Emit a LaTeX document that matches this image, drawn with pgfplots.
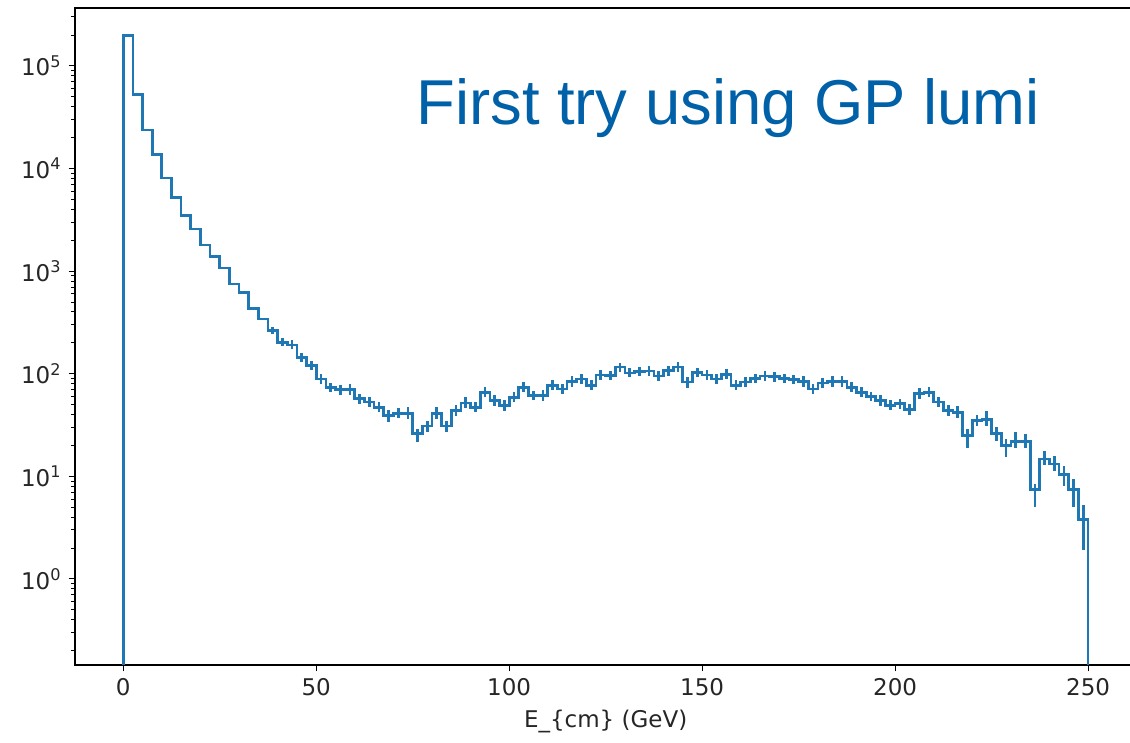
\documentclass[border=0pt]{standalone}
\usepackage{fontspec}
\setmainfont{DejaVu Sans}
\newfontfamily\arialfont{Liberation Sans}
\usepackage{pgfplots}
\pgfplotsset{compat=1.18}
\usepackage{pgfplotstable}
\definecolor{mplblue}{HTML}{1F77B4}
\definecolor{txtblue}{RGB}{0,96,168}

% histogram: left bin edge, bin content (2.5 GeV bins)
\pgfplotstableread{
x y
0 0.01
0 197000
2.5 53000
5 23800
7.5 13600
10 8100
12.5 5200
15 3470
17.5 2580
20 1800
22.5 1380
25 1070
27.5 750
30 622
32.5 434
35 342
37.5 263
40 203
42.5 191
45 145
47.5 120
50 89
52.5 74
55 70
57.5 70
60 57
62.5 53
65 47
67.5 39
70 41
72.5 41
75 26
77.5 31
80 41
82.5 31
85 44
87.5 52
90 47
92.5 66
95 55
97.5 49
100 59
102.5 74
105 61
107.5 61
110 77
112.5 71
115 84
117.5 89
120 77
122.5 97
125 96
127.5 116
130 102
132.5 105
135 106
137.5 95
140 107
142.5 116
145 83
147.5 103
150 97
152.5 89
155 99
157.5 77
160 83
162.5 90
165 95
167.5 94
170 90
172.5 88
175 84
177.5 71
180 81
182.5 84
185 84
187.5 74
190 66
192.5 60
195 55
197.5 49
200 51
202.5 45
205 64
207.5 66
210 53
212.5 44
215 42
217.5 25
220 35
222.5 36
225 26
227.5 20
230 22
232.5 22
235 7.5
237.5 14.8
240 13.2
242.5 10.5
245 7.5
247.5 3.8
250 0.01
}\histo

% fine structure inside the bins (vertical strokes at bin centres)
\pgfplotstableread{
x y ep em
38.75 263 25 20
41.25 203 20 18
43.75 191 20 18
46.25 145 16 14
48.75 120 14 12
51.25 89 10 9
53.75 74 8 7
56.25 70 8 8
58.75 70 9 8
61.25 57 7 6
63.75 53 6 6
66.25 47 6 5
68.75 39 5 5
71.25 41 5 4
73.75 41 6 5
76.25 26 3 4.5
78.75 31 4 4
81.25 41 6 5
83.75 31 4 4
86.25 44 6 5
88.75 52 7 6
91.25 47 6 5
93.75 66 8 7
96.25 55 7 6
98.75 49 6 6
101.25 59 7 6
103.75 74 9 8
106.25 61 7 6
108.75 61 8 7
111.25 77 9 8
113.75 71 8 7
116.25 84 10 9
118.75 89 10 9
121.25 77 10 8
123.75 97 11 10
126.25 96 11 10
128.75 116 12 11
131.25 102 12 10
133.75 105 12 11
136.25 106 12 11
138.75 95 11 10
141.25 107 12 11
143.75 116 14 12
146.25 83 10 10
148.75 103 12 10
151.25 97 11 10
153.75 89 10 9
156.25 99 12 10
158.75 77 9 8
161.25 83 10 9
163.75 90 10 9
166.25 95 11 10
168.75 94 11 10
171.25 90 10 9
173.75 88 10 9
176.25 84 10 9
178.75 71 9 8
181.25 81 10 9
183.75 84 10 9
186.25 84 10 9
188.75 74 9 8
191.25 66 8 7
193.75 60 7 6
196.25 55 7 6
198.75 49 6 5
201.25 51 6 6
203.75 45 6 5
206.25 64 8 7
208.75 66 8 7
211.25 53 7 6
213.75 44 6 5
216.25 42 6 5
218.75 25 4 6
221.25 35 5 4
223.75 36 7 5
226.25 26 4 4
228.75 20 3 4.4
231.25 22 5 3
233.75 22 4 3
236.25 7.5 1 2.5
238.75 14.8 3 2
241.25 13.2 2.5 2
243.75 10.5 2 2.5
246.25 7.5 2 2.5
248.75 3.8 1.5 1.9
}\spikes

\begin{document}
\begin{tikzpicture}
\begin{axis}[
  at={(0,0)}, anchor=south west,
  scale only axis, width=530.65pt, height=328.5pt,
  xmin=-12.5, xmax=262.5,
  ymode=log, ymin=0.145, ymax=3.67e5,
  xtick={0,50,100,150,200,250},
  ytick={1,10,100,1000,10000,100000},
  yticklabels={10\textsuperscript{0},10\textsuperscript{1},10\textsuperscript{2},10\textsuperscript{3},10\textsuperscript{4},10\textsuperscript{5}},
  minor ytick={0.2,0.3,0.4,0.5,0.6,0.7,0.8,0.9,2,3,4,5,6,7,8,9,20,30,40,50,60,70,80,90,200,300,400,500,600,700,800,900,2000,3000,4000,5000,6000,7000,8000,9000,20000,30000,40000,50000,60000,70000,80000,90000,200000,300000},
  tick pos=left,
  tick align=outside,
  major tick length=3.2pt, minor tick length=1.9pt,
  every tick/.style={black, line width=0.5pt},
  axis line style={line width=0.6pt, black},
  ticklabel style={font=\fontsize{11.5}{13}\selectfont, text=black!85},
  /pgf/number format/assume math mode=true,
  xlabel={E\_\{cm\} (GeV)},
  xlabel style={font=\fontsize{11.5}{13}\selectfont, text=black!85},
]
\addplot[const plot, mplblue, line width=1.35pt, line join=miter] table[x=x, y=y] {\histo};
\addplot[draw=none, mark=none, forget plot,
  error bars/.cd, y dir=both, y explicit, error mark=none,
  error bar style={draw=mplblue, line width=1.35pt}]
  table[x=x, y=y, y error plus=ep, y error minus=em] {\spikes};
\end{axis}
\node[anchor=base west, inner sep=0pt, text=txtblue, font=\arialfont\fontsize{31.7}{36}\selectfont] at (170.5pt,270pt) {First try using GP lumi};
\pgfresetboundingbox
\useasboundingbox (-37.5pt,-39pt) rectangle (527.5pt,332.5pt);
\end{tikzpicture}
\end{document}
